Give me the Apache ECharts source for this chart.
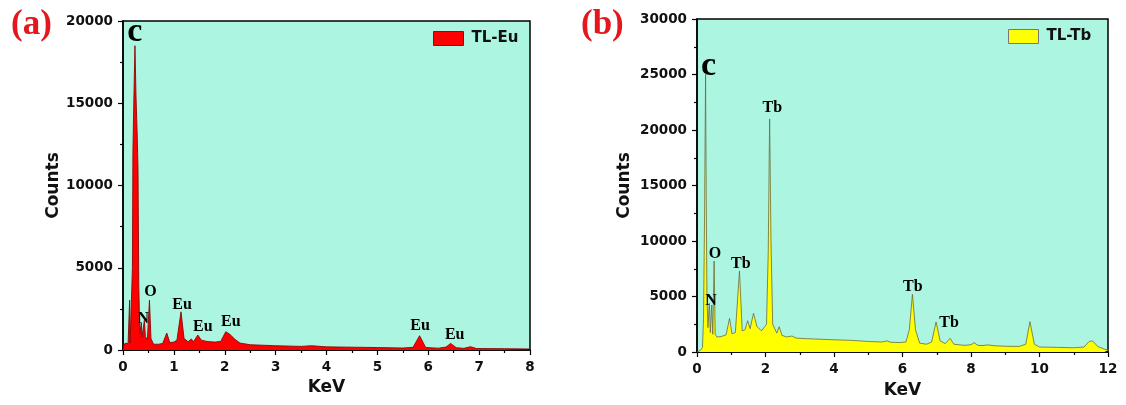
<!DOCTYPE html>
<html>
<head>
<meta charset="utf-8">
<title>EDS spectra TL-Eu / TL-Tb</title>
<script src="https://cdn.jsdelivr.net/npm/echarts@6/dist/echarts.min.js"></script>
<style>
  html, body { margin: 0; padding: 0; background: #fff; }
  #chart { width: 1126px; height: 405px; }
</style>
</head>
<body>
<div id="chart"></div>
<script>
// EDS spectrum of TL-Eu: [energy (keV), counts]
const euSpectrum = [
  [0, 0], [0.02, 350], [0.06, 420], [0.1, 380], [0.12, 400], [0.13, 3030], [0.14, 420],
  [0.17, 500], [0.185, 5000], [0.195, 12000], [0.215, 15500], [0.235, 18500], [0.255, 15500],
  [0.28, 13000], [0.295, 11000], [0.31, 4000], [0.33, 1000], [0.36, 1650], [0.375, 800],
  [0.40, 900], [0.42, 1800], [0.44, 800], [0.48, 650], [0.52, 3030], [0.55, 700], [0.6, 350],
  [0.7, 350], [0.78, 400], [0.86, 1030], [0.92, 450], [1.0, 480], [1.06, 600], [1.14, 2320],
  [1.2, 700], [1.28, 500], [1.34, 670], [1.39, 520], [1.47, 910], [1.54, 600], [1.65, 520],
  [1.8, 480], [1.92, 520], [2.02, 1110], [2.1, 950], [2.2, 650], [2.3, 420], [2.5, 320],
  [3.0, 260], [3.5, 220], [3.7, 260], [4.0, 190], [4.5, 170], [5.0, 150], [5.5, 120],
  [5.7, 160], [5.83, 870], [5.95, 150], [6.2, 110], [6.35, 180], [6.44, 400], [6.55, 140],
  [6.7, 100], [6.83, 200], [6.95, 90], [7.5, 80], [8.0, 60]
];

// EDS spectrum of TL-Tb: [energy (keV), counts]
const tbSpectrum = [
  [0, 0], [0.1, 150], [0.16, 400], [0.19, 3000], [0.22, 12000], [0.25, 25000], [0.27, 14000],
  [0.29, 5000], [0.32, 2200], [0.36, 4390], [0.39, 1750], [0.43, 4230], [0.46, 1600],
  [0.50, 8200], [0.53, 1600], [0.58, 1350], [0.7, 1380], [0.85, 1550], [0.95, 3030],
  [1.02, 1650], [1.12, 1750], [1.24, 7300], [1.32, 1900], [1.4, 2000], [1.48, 2820],
  [1.55, 2100], [1.65, 3490], [1.75, 2300], [1.88, 1900], [1.98, 2300], [2.03, 2500],
  [2.08, 9000], [2.12, 21000], [2.16, 10000], [2.21, 2500], [2.33, 1700], [2.40, 2280],
  [2.48, 1500], [2.62, 1350], [2.77, 1440], [2.9, 1250], [3.2, 1200], [3.6, 1150], [4.0, 1100],
  [4.5, 1050], [5.0, 950], [5.4, 900], [5.55, 1000], [5.65, 880], [5.9, 850], [6.1, 900],
  [6.2, 2000], [6.29, 5200], [6.38, 2000], [6.5, 800], [6.7, 700], [6.85, 900], [6.98, 2700],
  [7.1, 1000], [7.25, 750], [7.39, 1230], [7.5, 700], [7.8, 600], [8.0, 650], [8.09, 840],
  [8.2, 600], [8.35, 580], [8.48, 640], [8.7, 560], [9.0, 520], [9.4, 500], [9.6, 700],
  [9.72, 2730], [9.85, 700], [10.0, 450], [10.5, 420], [11.0, 380], [11.3, 450], [11.45, 950],
  [11.55, 1000], [11.7, 500], [11.9, 250], [12.0, 180]
];

// element labels: [energy, counts, text]
const euPeakLabels = [
  [0.23, 19330, 'c'], [0.40, 1880, 'N'], [0.54, 3515, 'O'], [1.16, 2730, 'Eu'],
  [1.57, 1390, 'Eu'], [2.12, 1700, 'Eu'], [5.84, 1450, 'Eu'], [6.52, 910, 'Eu']
];
const tbPeakLabels = [
  [0.34, 25720, 'c'], [0.41, 4600, 'N'], [0.525, 8830, 'O'], [1.28, 7930, 'Tb'],
  [2.20, 21950, 'Tb'], [6.30, 5900, 'Tb'], [7.36, 2610, 'Tb']
];

const panelTitles = ['(a)', '(b)'];
const seriesNames = ['TL-Eu', 'TL-Tb'];
const xRange = [[0, 8, 1], [0, 12, 2]];
const yRange = [[0, 20000, 5000], [0, 30000, 5000]];

const tickFont = { fontFamily: 'DejaVu Sans', fontWeight: 'bold', fontSize: 13.5, color: '#111' };
const nameFont = { fontFamily: 'DejaVu Sans', fontWeight: 'bold', fontSize: 17, color: '#111' };

function xAxisFor(i) {
  return {
    type: 'value', gridIndex: i, min: xRange[i][0], max: xRange[i][1], interval: xRange[i][2],
    name: 'KeV', nameLocation: 'middle', nameGap: i === 0 ? 22 : 30, nameTextStyle: nameFont,
    axisLine: { show: true, lineStyle: { color: '#000', width: 1.5 } },
    axisTick: { show: true, length: 5, inside: false, lineStyle: { color: '#000', width: 1.2 } },
    minorTick: { show: true, splitNumber: 2, length: 3, lineStyle: { color: '#000', width: 1.2 } },
    axisLabel: Object.assign({ margin: 10, formatter: v => String(v) }, tickFont),
    splitLine: { show: false }
  };
}
function yAxisFor(i) {
  return {
    type: 'value', gridIndex: i, min: yRange[i][0], max: yRange[i][1], interval: yRange[i][2],
    name: 'Counts', nameLocation: 'middle', nameGap: i === 0 ? 60 : 64, nameTextStyle: nameFont,
    axisLine: { show: true, lineStyle: { color: '#000', width: 1.5 } },
    axisTick: { show: true, length: 5, inside: false, lineStyle: { color: '#000', width: 1.2 } },
    minorTick: { show: true, splitNumber: 2, length: 3, lineStyle: { color: '#000', width: 1.2 } },
    axisLabel: Object.assign({ margin: 10, formatter: v => String(v) }, tickFont),
    splitLine: { show: false }
  };
}
function peakLabelSeries(i, labels) {
  return {
    type: 'scatter', xAxisIndex: i, yAxisIndex: i, symbolSize: 0, silent: true, z: 5,
    itemStyle: { color: '#000', opacity: 1 },
    data: labels.map(d => ({
      value: [d[0], d[1]], name: d[2],
      // the carbon mark is set much larger than the others
      label: d[2] === 'c' ? { fontSize: 34 } : undefined
    })),
    label: {
      show: true, position: [0, 0], align: 'center', verticalAlign: 'middle',
      formatter: p => p.name,
      fontFamily: 'Liberation Serif', fontWeight: 'bold', color: '#000',
      fontSize: 16, textBorderWidth: 0
    }
  };
}

const chart = echarts.init(document.getElementById('chart'), null, { renderer: 'canvas' });

const legendText = { fontFamily: 'DejaVu Sans', fontWeight: 'bold', fontSize: 15, color: '#111', padding: [0, 0, 0, 3] };

chart.setOption({
  animation: false,
  backgroundColor: '#ffffff',
  title: [
    { text: panelTitles[0], left: 11, top: 7, padding: 0, textStyle: { fontFamily: 'Liberation Serif', fontWeight: 'bold', fontSize: 35, color: '#e4171f' } },
    { text: panelTitles[1], left: 581, top: 7, padding: 0, textStyle: { fontFamily: 'Liberation Serif', fontWeight: 'bold', fontSize: 35, color: '#e4171f' } }
  ],
  legend: [
    {
      data: [seriesNames[0]], left: 433, top: 31, padding: 0, itemWidth: 30, itemHeight: 14, itemGap: 8,
      icon: 'rect', textStyle: legendText,
      itemStyle: { borderColor: '#333', borderWidth: 1 }
    },
    {
      data: [seriesNames[1]], left: 1008, top: 29, padding: 0, itemWidth: 30, itemHeight: 14, itemGap: 8,
      icon: 'rect', textStyle: legendText,
      itemStyle: { borderColor: '#777', borderWidth: 1 }
    }
  ],
  grid: [
    { left: 123, top: 21, width: 407, height: 329, show: true, backgroundColor: '#acf6e1', borderColor: '#000', borderWidth: 1.5 },
    { left: 697, top: 19, width: 411, height: 333, show: true, backgroundColor: '#acf6e1', borderColor: '#000', borderWidth: 1.5 }
  ],
  xAxis: [xAxisFor(0), xAxisFor(1)],
  yAxis: [yAxisFor(0), yAxisFor(1)],
  series: [
    {
      name: seriesNames[0], type: 'line', xAxisIndex: 0, yAxisIndex: 0, data: euSpectrum,
      showSymbol: false, symbol: 'none', color: '#ff0000',
      lineStyle: { color: '#8a0808', width: 0.9 },
      areaStyle: { color: '#ff0000', opacity: 1 }
    },
    {
      name: seriesNames[1], type: 'line', xAxisIndex: 1, yAxisIndex: 1, data: tbSpectrum,
      showSymbol: false, symbol: 'none', color: '#ffff00',
      lineStyle: { color: '#6a6a40', width: 0.8 },
      areaStyle: { color: '#ffff00', opacity: 1 }
    },
    peakLabelSeries(0, euPeakLabels),
    peakLabelSeries(1, tbPeakLabels)
  ]
});
</script>
</body>
</html>
